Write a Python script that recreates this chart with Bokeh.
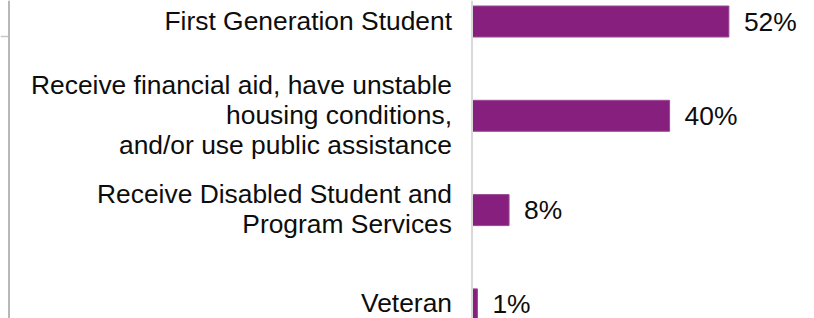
from bokeh.plotting import figure
from bokeh.models import ColumnDataSource, Range1d, Span
from bokeh.core.properties import value
from bokeh.embed import file_html
from bokeh.resources import INLINE

# ---- data ----
categories = [
    "First Generation Student",
    "Receive financial aid, have unstable\nhousing conditions,\nand/or use public assistance",
    "Receive Disabled Student and\nProgram Services",
    "Veteran",
]
shares = [52, 40, 7.5, 1.1]
share_labels = ["52%", "40%", "8%", "1%"]

# ---- layout constants ----
W, H = 814, 318
PPU = 4.94          # pixels per percent
AXIS_PX = 471.5     # pixel position of the value-axis line
ROW_PX = 94.3       # pixel spacing between categories
TOP_PX = 21.0       # pixel centre of first category

n = len(categories)
ys = [n - 1 - i for i in range(n)]

x_start = -AXIS_PX / PPU
x_end = (W - AXIS_PX) / PPU
y_top = (n - 1) + TOP_PX / ROW_PX
y_bottom = y_top - H / ROW_PX

src = ColumnDataSource(dict(y=ys, cat=categories, v=shares, lab=share_labels))

p = figure(width=W, height=H, output_backend="svg", toolbar_location=None,
           x_range=Range1d(x_start, x_end), y_range=Range1d(y_bottom, y_top),
           x_axis_location=None, y_axis_location=None, min_border=0,
           styles={"position": "absolute", "left": "0px", "top": "0px"})
p.outline_line_color = None
p.xgrid.visible = False
p.ygrid.visible = False
p.background_fill_color = "white"

# cropped border from the source page (decoration)
p.add_layout(Span(location=x_start + 8.5 / PPU, dimension="height",
                  line_color="#b8b8b8", line_width=2))
p.segment(x0=[x_start], x1=[x_start + 8.5 / PPU],
          y0=[y_top - 36 / ROW_PX], y1=[y_top - 36 / ROW_PX],
          line_color="#c8c8c8", line_width=1.5)

p.hbar(y="y", left=0, right="v", height=31 / ROW_PX, source=src,
       fill_color="#861f7e", line_color="#9a4a94", line_width=1)

# value axis line
p.add_layout(Span(location=0, dimension="height", line_color="#d9d9d9", line_width=2))

# category labels
p.text(x=0, y="y", text="cat", source=src, x_offset=-20, y_offset=-1,
       text_align="right", text_baseline="middle",
       text_font=value("Liberation Sans"), text_font_size="26.4px",
       text_color="#0d0d0d", text_line_height=1.0)

# value labels
p.text(x="v", y="y", text="lab", source=src, x_offset=15,
       text_align="left", text_baseline="middle",
       text_font=value("Liberation Sans"), text_font_size="26.4px",
       text_color="#0d0d0d")

open("out.html", "w").write(file_html(p, INLINE))
